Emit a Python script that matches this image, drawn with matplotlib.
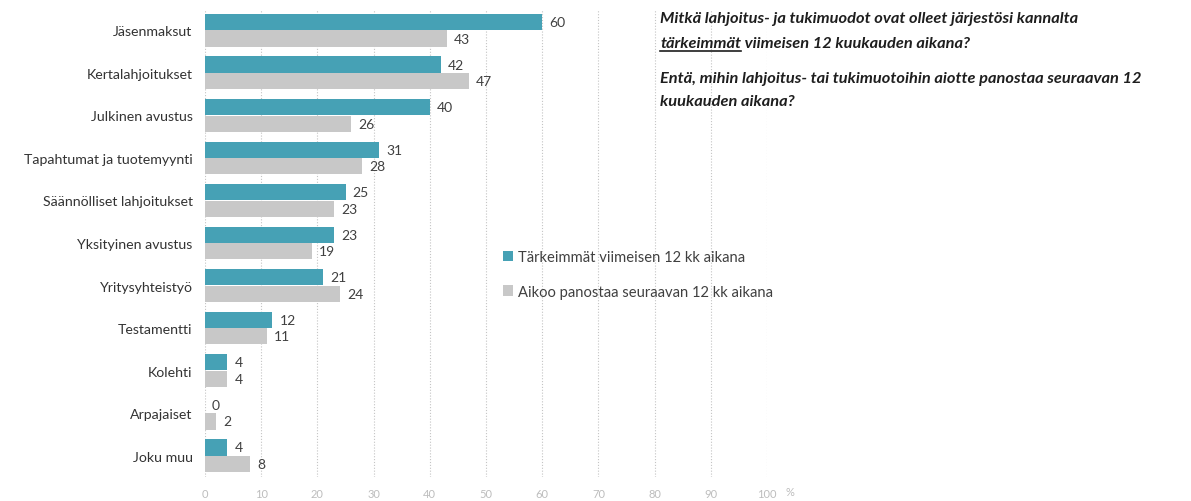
import matplotlib
matplotlib.use("Agg")
import matplotlib.pyplot as plt
from matplotlib.lines import Line2D
import numpy as np

categories = ["Jäsenmaksut", "Kertalahjoitukset", "Julkinen avustus",
              "Tapahtumat ja tuotemyynti", "Säännölliset lahjoitukset",
              "Yksityinen avustus", "Yritysyhteistyö", "Testamentti",
              "Kolehti", "Arpajaiset", "Joku muu"]
tarkeimmat = [60, 42, 40, 31, 25, 23, 21, 12, 4, 0, 4]
aikoo = [43, 47, 26, 28, 23, 19, 24, 11, 4, 2, 8]
series_names = ["Tärkeimmät viimeisen 12 kk aikana",
                "Aikoo panostaa seuraavan 12 kk aikana"]
xticks = list(range(0, 101, 10))

TEAL = "#46A1B5"
GRAY = "#C8C8C8"
FONT = "Lato"
plt.rcParams['font.family'] = [FONT, 'DejaVu Sans']

W, H = 1191, 502
fig = plt.figure(figsize=(W / 100, H / 100), dpi=100)
ax = fig.add_axes([205 / W, (H - 478) / H, 562 / W, 468 / H])

y = np.arange(len(categories))
bh = 0.38
off = 0.195
b1 = ax.barh(y - off, tarkeimmat, height=bh, color=TEAL, label=series_names[0], zorder=3)
b2 = ax.barh(y + off, aikoo, height=bh, color=GRAY, label=series_names[1], zorder=3)

for bars, vals in ((b1, tarkeimmat), (b2, aikoo)):
    for rect, v in zip(bars, vals):
        ax.annotate(str(v), (rect.get_width(), rect.get_y() + rect.get_height() / 2),
                    xytext=(5, 0), textcoords="offset points", va="center", ha="left",
                    fontsize=10, color="#404040")

ax.set_xlim(0, 100)
ax.set_ylim(len(categories) - 0.5, -0.5)
ax.set_yticks(y)
ax.set_yticklabels(categories, fontsize=10.2, color="#333333")
ax.set_xticks(xticks)
ax.set_xticklabels([str(t) for t in xticks], fontsize=8, color="#BDBDBD")
ax.tick_params(length=0, axis="both")
ax.tick_params(axis="y", pad=9)
ax.tick_params(axis="x", pad=8)
for s in ax.spines.values():
    s.set_visible(False)
ax.xaxis.grid(True, linestyle=(0, (1.0, 1.6)), color="#C4C4C4", linewidth=0.8, zorder=0)
ax.set_axisbelow(True)

fig.text(786 / W, 1 - 493 / H, "%", fontsize=8, color="#BDBDBD", va="center", ha="left")

leg = ax.legend(handles=[b1, b2], loc="upper left", bbox_to_anchor=(503 / W, 1 - 251 / H),
                bbox_transform=fig.transFigure, frameon=False, fontsize=10.6,
                handlelength=0.7, handleheight=0.7, handletextpad=0.3, labelspacing=1.4,
                borderpad=0, borderaxespad=0)
for t in leg.get_texts():
    t.set_color("#404040")

# Question text
tc = "#1E1E1E"
fs = 11.8
fw = "bold"
x0 = 660 / W
fig.text(x0, 1 - 19 / H, "Mitkä lahjoitus- ja tukimuodot ovat olleet järjestösi kannalta",
         fontsize=fs, style="italic", fontweight=fw, color=tc, va="center")
t_und = fig.text(x0, 1 - 44 / H, "tärkeimmät", fontsize=fs, style="italic",
                 fontweight=fw, color=tc, va="center")
fig.canvas.draw()
r = fig.canvas.get_renderer()
bb = t_und.get_window_extent(renderer=r)
fig.text(bb.x1 / W, 1 - 44 / H, " viimeisen 12 kuukauden aikana?", fontsize=fs,
         style="italic", fontweight=fw, color=tc, va="center")
fig.add_artist(Line2D([bb.x0 / W, bb.x1 / W], [(bb.y0 - 1) / H, (bb.y0 - 1) / H],
                      transform=fig.transFigure, color=tc, linewidth=1.2))
fig.text(x0, 1 - 79 / H, "Entä, mihin lahjoitus- tai tukimuotoihin aiotte panostaa seuraavan 12",
         fontsize=fs, style="italic", fontweight=fw, color=tc, va="center")
fig.text(x0, 1 - 102 / H, "kuukauden aikana?", fontsize=fs, style="italic",
         fontweight=fw, color=tc, va="center")

fig.savefig("out.png", dpi=100, facecolor="white")
